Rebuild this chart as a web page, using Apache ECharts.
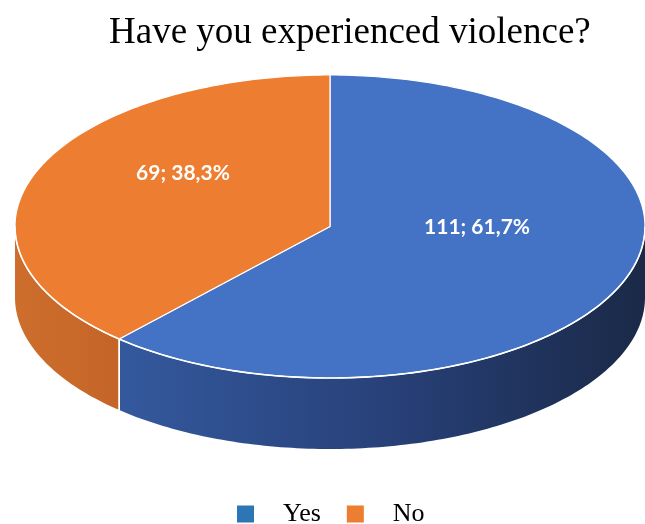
<!DOCTYPE html>
<html>
<head>
<meta charset="utf-8">
<script src="https://cdn.jsdelivr.net/npm/echarts@6/dist/echarts.min.js"></script>
<style>
  html, body { margin: 0; padding: 0; background: #fff; }
  #chart { width: 645px; height: 524px; }
</style>
</head>
<body>
<div id="chart"></div>
<script>
// Survey answers
const categories = ['Yes', 'No'];
const counts = [111, 69];

// Colours: top face, side gradient (left -> right), legend swatch
const topColors = ['#4472C4', '#ED7D31'];
const sideColors = [['#34599D', '#28417A', '#1A2947'], ['#CD6E2D', '#C9692A', '#C46528']];
const legendColors = ['#2E75B6', '#ED7D31'];

// Tilted-disc geometry (pixels)
const disc = { cx: 330, cy: 226.5, rx: 315, ry: 151.5, depth: 71 };

const total = counts.reduce((a, b) => a + b, 0);

function pt(theta, dy) {
  return [disc.cx + disc.rx * Math.sin(theta), disc.cy - disc.ry * Math.cos(theta) + (dy || 0)];
}

function arc(a0, a1, dy) {
  const n = Math.max(2, Math.ceil(Math.abs(a1 - a0) / (Math.PI / 180)));
  const pts = [];
  for (let k = 0; k <= n; k++) pts.push(pt(a0 + (a1 - a0) * k / n, dy));
  return pts;
}

function fmtPct(v) {
  return (v / total * 100).toFixed(1).replace('.', ',') + '%';
}

function renderSlice(i, value) {
  const before = counts.slice(0, i).reduce((a, b) => a + b, 0);
  const a0 = before / total * Math.PI * 2;
  const a1 = (before + value) / total * Math.PI * 2;
  const children = [];

  // front wall (only the part facing the viewer)
  const s = Math.max(a0, Math.PI / 2);
  const e = Math.min(a1, Math.PI * 3 / 2);
  if (s < e) {
    const topEdge = arc(s, e, 0);
    const botEdge = arc(e, s, disc.depth);
    const xs = topEdge.concat(botEdge).map(p => p[0]);
    const xMin = Math.min.apply(null, xs), xMax = Math.max.apply(null, xs);
    const c = sideColors[i];
    children.push({
      type: 'polygon',
      shape: { points: topEdge.concat(botEdge) },
      style: {
        fill: {
          type: 'linear', x: xMin, y: 0, x2: xMax, y2: 0, global: true,
          colorStops: [{ offset: 0, color: c[0] }, { offset: 0.5, color: c[1] }, { offset: 1, color: c[2] }]
        },
        stroke: null
      },
      z2: 1
    });
    [a0, a1].forEach(a => {
      if (a > Math.PI / 2 && a < Math.PI * 3 / 2) {
        const p = pt(a, 0), q = pt(a, disc.depth);
        children.push({
          type: 'line',
          shape: { x1: p[0], y1: p[1], x2: q[0], y2: q[1] },
          style: { stroke: '#ffffff', lineWidth: 1.5 },
          z2: 2
        });
      }
    });
  }

  // top face
  children.push({
    type: 'polygon',
    shape: { points: [[disc.cx, disc.cy]].concat(arc(a0, a1, 0)) },
    style: { fill: topColors[i], stroke: '#ffffff', lineWidth: 1.2, lineJoin: 'round' },
    z2: 3
  });
  if (s < e) {
    children.push({
      type: 'polyline',
      shape: { points: arc(s, e, 0) },
      style: { stroke: '#ffffff', lineWidth: 1.6, fill: null },
      z2: 4
    });
  }

  // value label
  const mid = (a0 + a1) / 2;
  const lp = [disc.cx + disc.rx * 0.5 * Math.sin(mid), disc.cy - disc.ry * 0.5 * Math.cos(mid) - 26];
  children.push({
    type: 'text',
    style: {
      text: value + '; ' + fmtPct(value),
      x: lp[0], y: lp[1],
      align: 'center', verticalAlign: 'middle',
      fill: '#ffffff',
      font: 'bold 21px Lato, "Noto Sans", sans-serif'
    },
    z2: 5
  });

  return { type: 'group', children: children };
}

const chart = echarts.init(document.getElementById('chart'), null, { renderer: 'canvas' });

chart.setOption({
  backgroundColor: '#ffffff',
  animation: false,
  title: {
    text: 'Have you experienced violence?',
    left: 104,
    top: 10,
    textStyle: { fontFamily: '"Liberation Serif", "Times New Roman", serif', fontSize: 37, fontWeight: 'normal', color: '#000' }
  },
  legend: {
    left: 232,
    top: 496,
    icon: 'rect',
    itemWidth: 17,
    itemHeight: 17,
    itemGap: 26,
    selectedMode: false,
    textStyle: {
      fontFamily: '"Liberation Serif", "Times New Roman", serif',
      fontSize: 26,
      color: '#000',
      padding: [0, 0, 0, 24]
    },
    data: categories.map((name, i) => ({ name: name, itemStyle: { color: legendColors[i] } }))
  },
  series: categories.map((name, i) => ({
    type: 'custom',
    name: name,
    coordinateSystem: 'none',
    itemStyle: { color: legendColors[i] },
    data: [counts[i]],
    renderItem: (params, api) => renderSlice(i, api.value(0))
  }))
});
</script>
</body>
</html>
